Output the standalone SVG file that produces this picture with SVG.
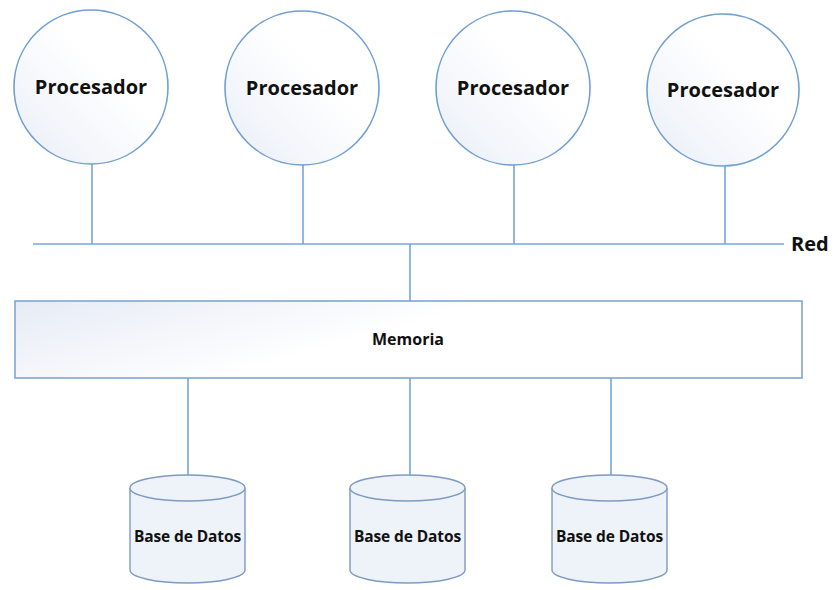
<svg xmlns="http://www.w3.org/2000/svg" width="835" height="590" viewBox="0 0 835 590">
  <defs>
    <linearGradient id="procFill" x1="0" y1="1" x2="1" y2="0">
      <stop offset="0" stop-color="#e9eef7"/>
      <stop offset="0.6" stop-color="#ffffff"/>
    </linearGradient>
    <linearGradient id="memFill" x1="0" y1="0" x2="1" y2="0.35">
      <stop offset="0" stop-color="#e6ebf5"/>
      <stop offset="0.55" stop-color="#ffffff"/>
    </linearGradient>
    <style>
      .proc { fill: url(#procFill); stroke: #6f9fd3; stroke-width: 1.6; }
      .mem { fill: url(#memFill); stroke: #7ea6d6; stroke-width: 1.6; }
      .db { fill: #eef2f9; stroke: #7d9bc2; stroke-width: 1.4; }
      .link { stroke: #74a6dc; stroke-width: 1.6; fill: none; }
      text { font-family: "Open Sans", "Noto Sans", "DejaVu Sans", sans-serif; font-weight: 700; fill: #111; text-anchor: middle; }
      .plabel { font-size: 20px; }
      .mlabel { font-size: 16px; }
      .dlabel { font-size: 15.5px; letter-spacing: -0.1px; }
      .rlabel { font-size: 20px; text-anchor: start; }
    </style>
  </defs>

  <g id="connectors">
    <line class="link" x1="33" y1="244" x2="784" y2="244"/>
    <line class="link" x1="92" y1="164" x2="92" y2="244"/>
    <line class="link" x1="303" y1="165" x2="303" y2="244"/>
    <line class="link" x1="514" y1="165" x2="514" y2="244"/>
    <line class="link" x1="725" y1="166" x2="725" y2="244"/>
    <line class="link" x1="410" y1="244" x2="410" y2="301"/>
    <line class="link" x1="188" y1="378" x2="188" y2="475"/>
    <line class="link" x1="410" y1="378" x2="410" y2="475"/>
    <line class="link" x1="611" y1="378" x2="611" y2="475"/>
  </g>

  <g id="proc1">
    <circle class="proc" cx="91" cy="87" r="77"/>
    <text class="plabel" x="91" y="94">Procesador</text>
  </g>
  <g id="proc2">
    <circle class="proc" cx="302" cy="88" r="77"/>
    <text class="plabel" x="302" y="95">Procesador</text>
  </g>
  <g id="proc3">
    <circle class="proc" cx="513" cy="88" r="77"/>
    <text class="plabel" x="513" y="95">Procesador</text>
  </g>
  <g id="proc4">
    <circle class="proc" cx="723" cy="90" r="76"/>
    <text class="plabel" x="723" y="97">Procesador</text>
  </g>

  <g id="red">
    <text class="rlabel" x="791" y="251">Red</text>
  </g>

  <g id="memoria">
    <rect class="mem" x="15" y="301" width="787" height="77"/>
    <text class="mlabel" x="408" y="345">Memoria</text>
  </g>

  <g id="db1">
    <path class="db" d="M130,488 V570 A57.5,13 0 0 0 245,570 V488"/>
    <ellipse class="db" cx="187.5" cy="488" rx="57.5" ry="13"/>
    <text class="dlabel" x="187.5" y="542">Base de Datos</text>
  </g>
  <g id="db2">
    <path class="db" d="M350,488 V570 A57.5,13 0 0 0 465,570 V488"/>
    <ellipse class="db" cx="407.5" cy="488" rx="57.5" ry="13"/>
    <text class="dlabel" x="407.5" y="542">Base de Datos</text>
  </g>
  <g id="db3">
    <path class="db" d="M552,488 V570 A57.5,13 0 0 0 667,570 V488"/>
    <ellipse class="db" cx="609.5" cy="488" rx="57.5" ry="13"/>
    <text class="dlabel" x="609.5" y="542">Base de Datos</text>
  </g>
</svg>
